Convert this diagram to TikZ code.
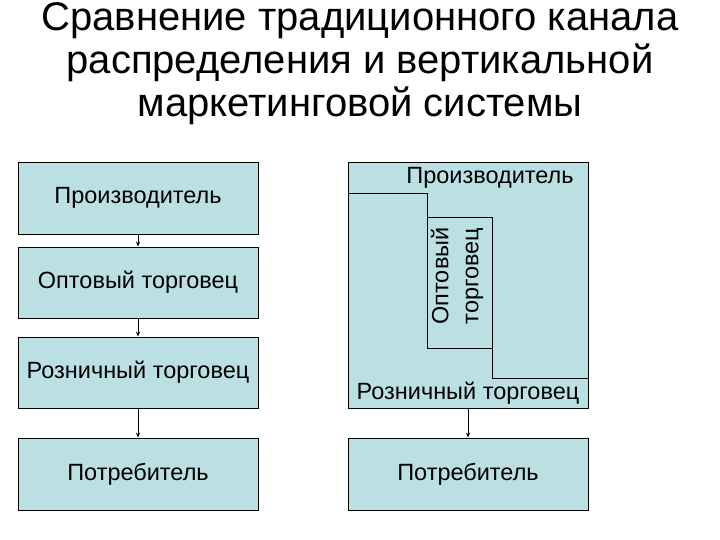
\documentclass[tikz,border=0pt]{standalone}
\usepackage{fontspec}
\setmainfont{Liberation Sans}
\usetikzlibrary{arrows.meta}
\definecolor{boxfill}{RGB}{187,224,228}
\begin{document}
\begin{tikzpicture}[x=1pt,y=-1pt,
  box/.style={draw=black,fill=boxfill,line width=0.8pt,minimum width=240pt,minimum height=72pt,inner sep=0pt,font=\fontsize{23.5}{28}\selectfont},
  lbl/.style={inner sep=0pt,font=\fontsize{23.5}{28}\selectfont},
  conn/.style={draw=black,line width=0.8pt,-{Stealth[length=5pt,width=4pt]}}]
\useasboundingbox (0,0) rectangle (720,540);
\fill[white] (0,0) rectangle (720,540);
\node[align=center,inner sep=0pt,font=\fontsize{40}{43}\selectfont] (title) at (360,64)
  {Сравнение традиционного канала\\распределения и вертикальной\\маркетинговой системы};
% traditional channel
\node[box] (p1) at (138,198) {Производитель};
\node[box,minimum height=71pt] (w1) at (138,282.5) {Оптовый торговец};
\node[box,minimum height=71pt] (r1) at (138,372.5) {Розничный торговец};
\node[box] (c1) at (138,474) {Потребитель};
\draw[conn] (p1.south) -- (w1.north);
\draw[conn] (w1.south) -- (r1.north);
\draw[conn] (r1.south) -- (c1.north);
% vertical marketing system
\node[box,minimum height=246pt] (vms) at (468,285) {};
\draw[fill=boxfill,line width=0.8pt] (348,193) -- (427,193) -- (427,348) -- (492,348) -- (492,378) -- (588,378) -- (588,408) -- (348,408) -- cycle;
\node[draw=black,fill=boxfill,line width=0.8pt,minimum width=65pt,minimum height=131pt,inner sep=0pt] (w2) at (459.5,282.5) {};
\node[rotate=90,inner sep=0pt,align=center,font=\fontsize{23.5}{30}\selectfont] (w2t) at (457,276) {Оптовый\\торговец};
\node[lbl] (p2) at (490,178) {Производитель};
\node[lbl] (r2) at (468,393) {Розничный торговец};
\node[box] (c2) at (468,474) {Потребитель};
\draw[conn] (vms.south) -- (c2.north);
\end{tikzpicture}
\end{document}
